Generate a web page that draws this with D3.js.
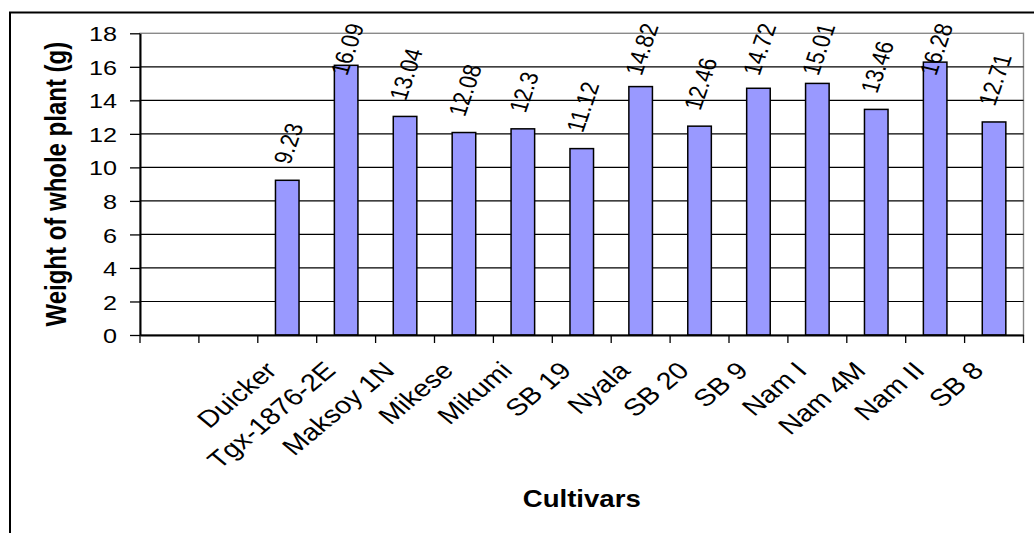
<!DOCTYPE html>
<html>
<head>
<meta charset="utf-8">
<script src="https://cdn.jsdelivr.net/npm/d3@7"></script>
<style>
  html, body { margin: 0; padding: 0; background: #fff; }
  svg { display: block; }
  text { font-family: "Liberation Sans", Arial, Helvetica, sans-serif; fill: #000; }
</style>
</head>
<body>
<svg id="chart" width="1034" height="533"></svg>
<script>
// Cultivar slots along the category axis (the first two slots are empty)
const categories = ["", "", "Duicker", "Tgx-1876-2E", "Maksoy 1N", "Mikese", "Mikumi",
  "SB 19", "Nyala", "SB 20", "SB 9", "Nam I", "Nam 4M", "Nam II", "SB 8"];
// Weight of whole plant (g) per cultivar
const weights = [null, null, 9.23, 16.09, 13.04, 12.08, 12.3, 11.12, 14.82, 12.46,
  14.72, 15.01, 13.46, 16.28, 12.71];
const yTicks = [0, 2, 4, 6, 8, 10, 12, 14, 16, 18];
const yTitle = "Weight of whole plant (g)";
const xTitle = "Cultivars";

const plot = { left: 140, right: 1023.5, top: 33.3, bottom: 335 };
const SX = 1.2;            // horizontal text widening
const barFrac = 0.4;       // bar width as a share of the category step

const svg = d3.select("#chart");

const x = d3.scaleBand()
  .domain(d3.range(categories.length))
  .range([plot.left, plot.right])
  .padding(0);
const y = d3.scaleLinear().domain([0, 18]).range([plot.bottom, plot.top]);

// outer chart frame
svg.append("rect")
  .attr("x", 10).attr("y", 12.5)
  .attr("width", 1100).attr("height", 600)
  .attr("fill", "#fff").attr("stroke", "#000").attr("stroke-width", 2);

// plot area border
svg.append("rect")
  .attr("x", plot.left).attr("y", plot.top)
  .attr("width", plot.right - plot.left).attr("height", plot.bottom - plot.top)
  .attr("fill", "none").attr("stroke", "#8a8a8a").attr("stroke-width", 1.4);

// horizontal gridlines
svg.append("g").selectAll("line")
  .data(yTicks.filter(d => d > 0 && d < 18))
  .join("line")
  .attr("x1", plot.left).attr("x2", plot.right)
  .attr("y1", d => y(d)).attr("y2", d => y(d))
  .attr("stroke", "#000").attr("stroke-width", 1.2);

// bars
const bw = x.bandwidth();
const barW = bw * barFrac;
const points = weights.map((v, i) => ({ i, v })).filter(d => d.v != null);

svg.append("g").selectAll("rect")
  .data(points)
  .join("rect")
  .attr("x", d => x(d.i) + (bw - barW) / 2)
  .attr("y", d => y(d.v))
  .attr("width", barW)
  .attr("height", d => y(0) - y(d.v))
  .attr("fill", "#9999ff")
  .attr("stroke", "#000")
  .attr("stroke-width", 1.5);

// value labels above bars, tilted
const labelAngle = 74;
const labelSize = 21;
const labels = svg.append("g").selectAll("text")
  .data(points)
  .join("text")
  .attr("text-anchor", "middle")
  .attr("dy", "0.35em")
  .style("font-size", labelSize + "px")
  .text(d => String(d.v));
labels.each(function (d) {
  const L = this.getComputedTextLength();
  const a = Math.atan(Math.tan(labelAngle * Math.PI / 180) / SX);
  const half = (L * Math.sin(a) + 0.72 * labelSize * Math.cos(a)) / 2;
  const cx = x(d.i) + bw / 2 + 1;
  const cy = Math.max(y(d.v) - 15 - half, 22 + half);
  d3.select(this).attr("transform",
    `translate(${cx},${cy}) scale(${SX},1) rotate(${-labelAngle})`);
});

// y axis
const yAxis = svg.append("g")
  .attr("transform", `translate(${plot.left},0)`)
  .call(d3.axisLeft(y).tickValues(yTicks).tickSize(10).tickSizeOuter(0).tickFormat(d3.format("d")));
yAxis.select(".domain").attr("stroke", "#000").attr("stroke-width", 2);
yAxis.selectAll(".tick line").attr("stroke", "#000").attr("stroke-width", 1.3);
yAxis.selectAll(".tick text")
  .attr("x", null).attr("dy", "0.36em")
  .attr("text-anchor", "end")
  .attr("font-family", null).attr("font-size", null)
  .style("font-size", "21px")
  .attr("transform", `translate(-23,0) scale(${SX},1)`);

// x axis
const xAxis = svg.append("g")
  .attr("transform", `translate(0,${plot.bottom})`)
  .call(d3.axisBottom(x).tickSize(0).tickSizeOuter(0).tickFormat(i => categories[i]));
xAxis.select(".domain").attr("stroke", "#000").attr("stroke-width", 2);
xAxis.selectAll(".tick text")
  .attr("y", null).attr("dy", null)
  .attr("text-anchor", "end")
  .attr("font-family", null).attr("font-size", null)
  .style("font-size", "24px")
  .attr("transform", `translate(-9,37) scale(${SX},1) rotate(-45)`);

// tick marks at category boundaries
const bounds = d3.range(categories.length).map(i => x(i)).concat([plot.right]);
svg.append("g").selectAll("line")
  .data(bounds)
  .join("line")
  .attr("x1", d => d).attr("x2", d => d)
  .attr("y1", plot.bottom).attr("y2", plot.bottom + 8)
  .attr("stroke", "#000").attr("stroke-width", 1.3);

// axis titles
svg.append("text")
  .attr("text-anchor", "middle")
  .style("font-size", "24px").style("font-weight", "bold")
  .attr("transform", `translate(66,${(plot.top + plot.bottom) / 2}) scale(${SX},1) rotate(-90)`)
  .text(yTitle);

svg.append("text")
  .attr("text-anchor", "middle")
  .style("font-size", "23px").style("font-weight", "bold")
  .attr("transform", `translate(${(plot.left + plot.right) / 2},507) scale(${SX},1)`)
  .text(xTitle);
</script>
</body>
</html>
